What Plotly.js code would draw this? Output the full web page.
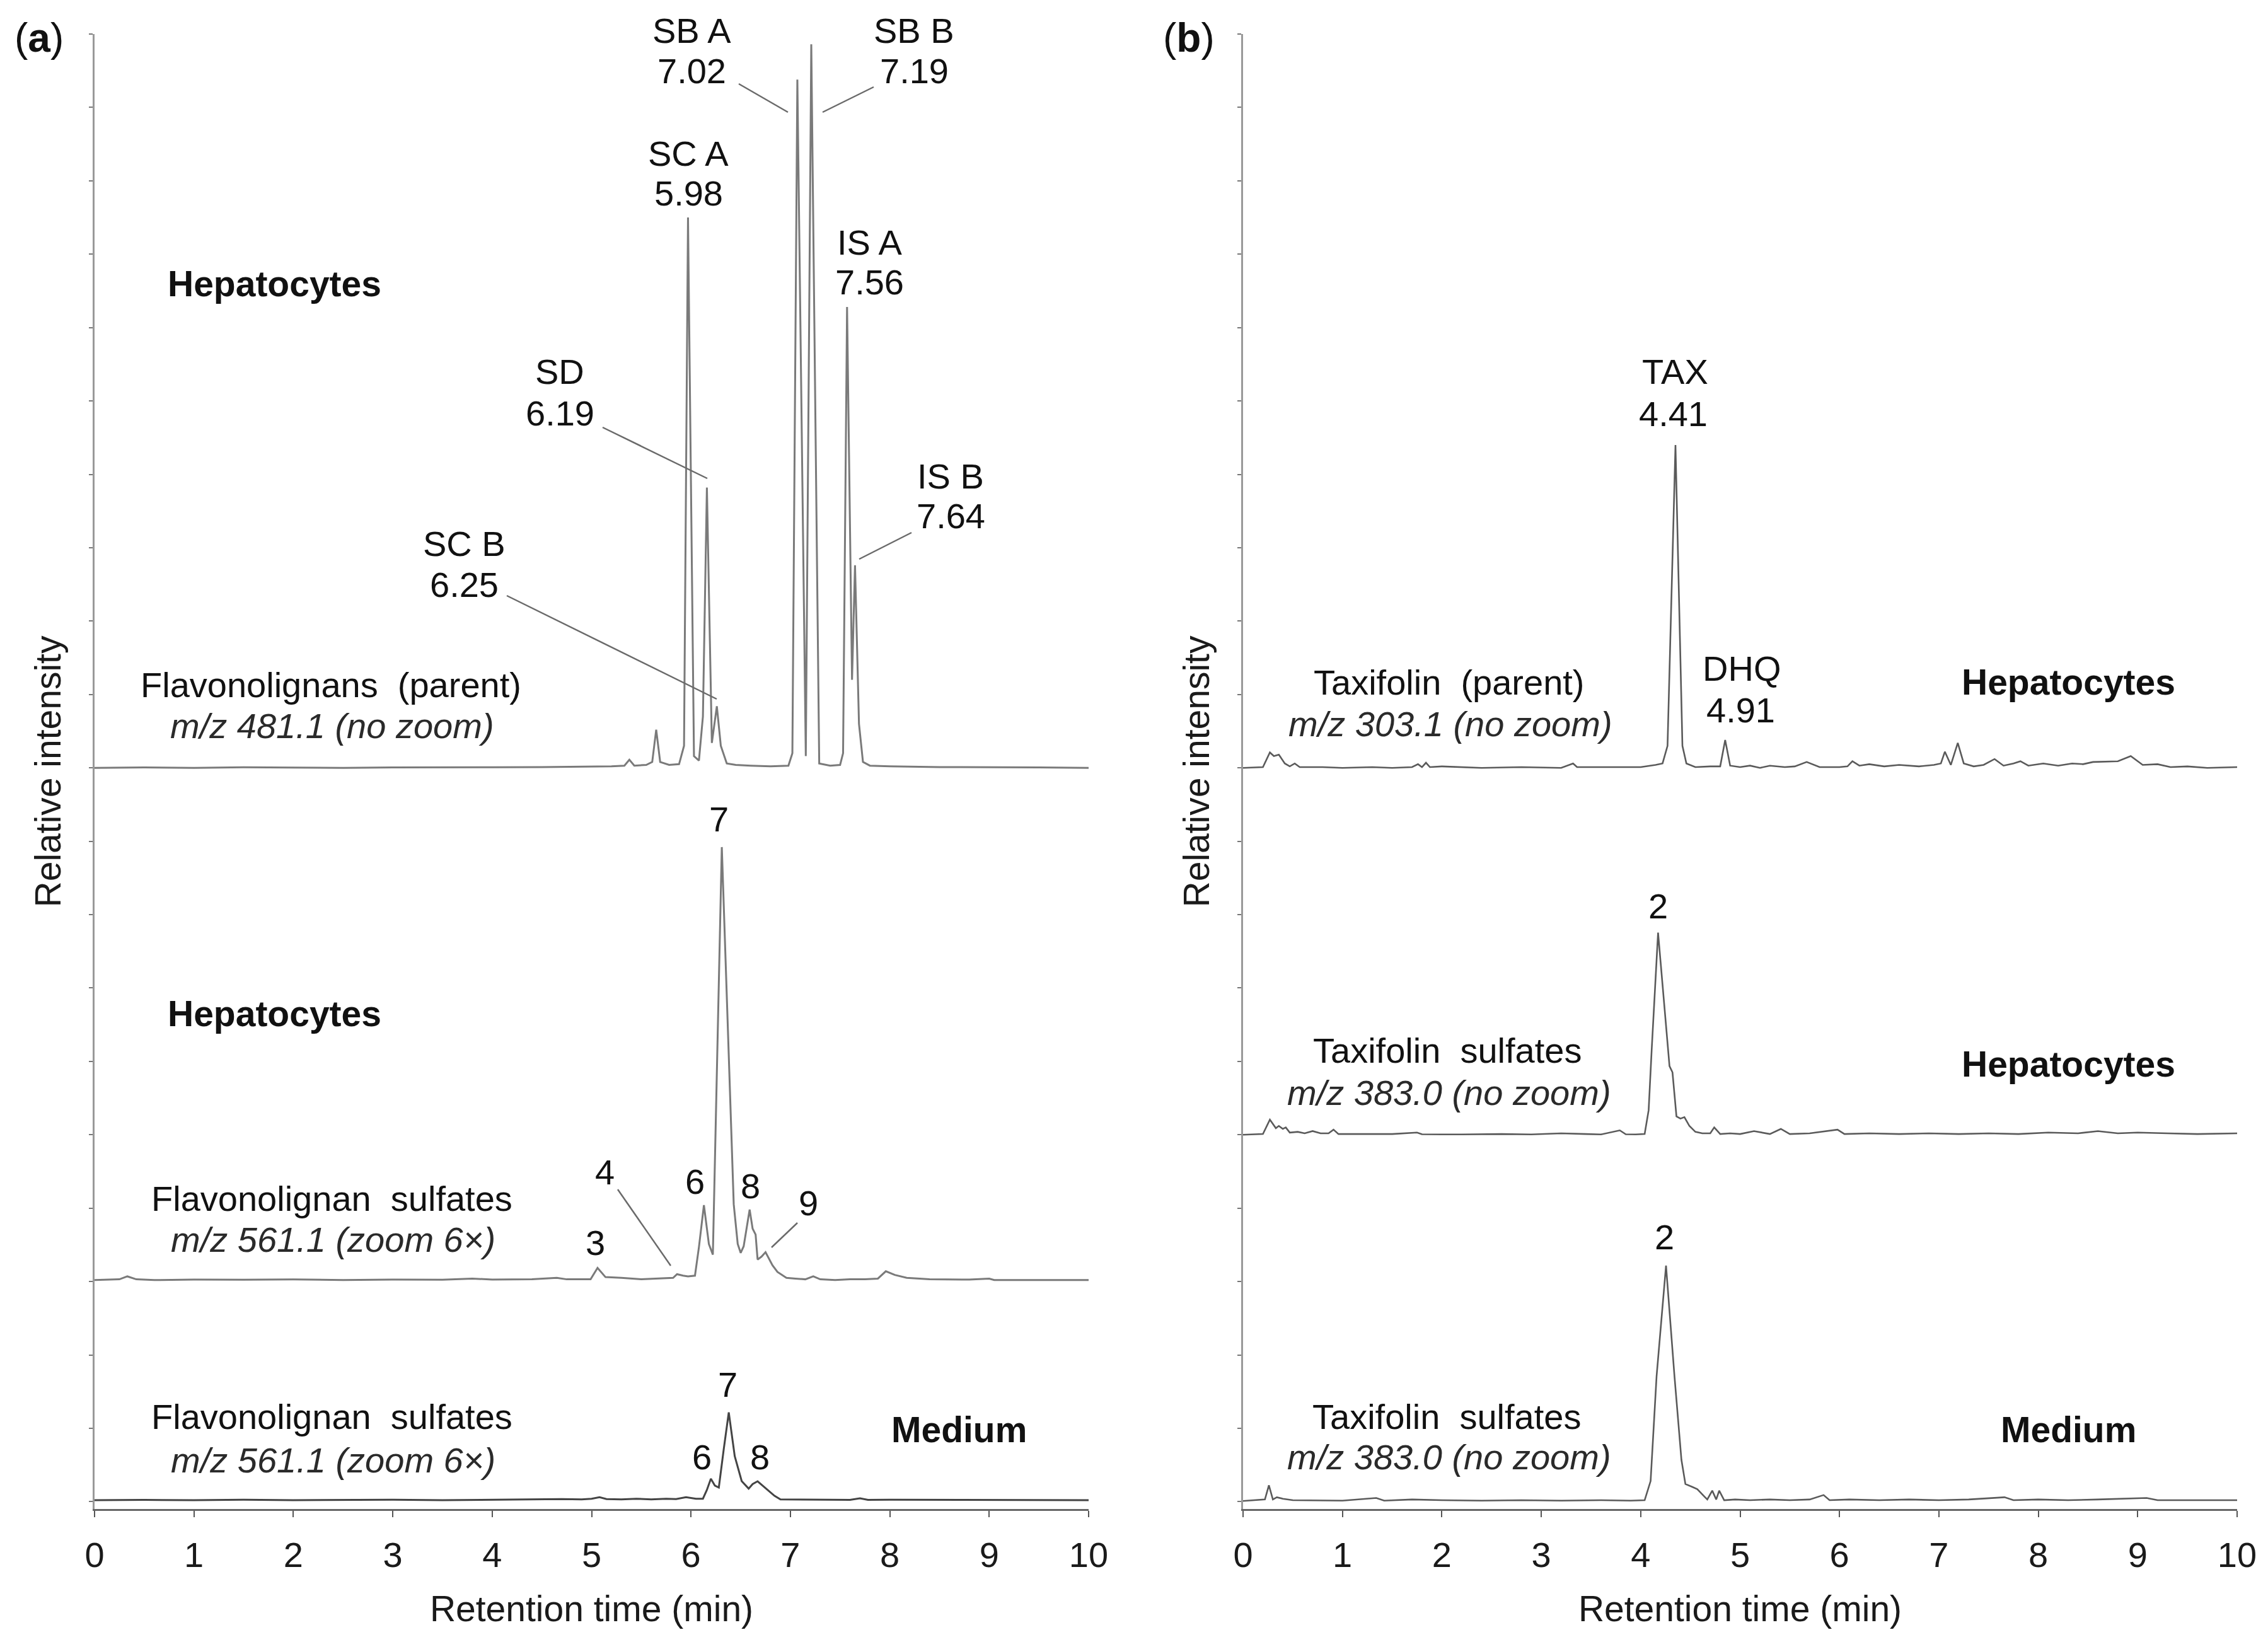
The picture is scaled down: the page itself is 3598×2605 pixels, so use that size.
<!DOCTYPE html>
<html><head><meta charset="utf-8">
<script src="https://cdn.plot.ly/plotly-3.0.1.min.js"></script>
<style>html,body{margin:0;padding:0;background:#fff;}#chart{width:3598px;height:2605px;}</style>
</head><body><div id="chart"></div>
<script>
// ---------- DATA (retention time [min], relative intensity) ----------
// Panel (a) – flavonolignans
const flavParentHep = [[0,0],[0.5,0.03],[1.0,0],[1.5,0.04],[2.0,0.02],[2.5,0],[3.0,0.03],[3.5,0.02],[4.0,0.04],[4.5,0.05],[5.0,0.08],[5.2,0.1],[5.33,0.15],[5.38,0.55],[5.43,0.15],[5.55,0.2],[5.61,0.4],[5.65,2.6],[5.69,0.4],[5.78,0.2],[5.88,0.25],[5.93,1.5],[5.97,37.5],[6.03,0.8],[6.08,0.5],[6.12,3.5],[6.16,19.1],[6.21,1.7],[6.26,4.2],[6.30,1.5],[6.36,0.3],[6.45,0.2],[6.6,0.15],[6.8,0.1],[6.98,0.15],[7.02,1.0],[7.07,46.9],[7.155,0.8],[7.21,49.3],[7.29,0.3],[7.40,0.15],[7.50,0.2],[7.53,1.0],[7.57,31.4],[7.62,6.0],[7.65,13.8],[7.69,3.0],[7.73,0.4],[7.80,0.15],[8.0,0.1],[8.5,0.05],[9.0,0.05],[9.5,0.03],[10,0]];
const flavSulfHep = [[0,0],[0.25,0.05],[0.33,0.25],[0.42,0.05],[0.6,0],[1.0,0.03],[1.5,0.02],[2.0,0.04],[2.5,0],[3.0,0.03],[3.5,0.02],[3.8,0.1],[4.0,0.03],[4.4,0.05],[4.65,0.15],[4.75,0.05],[4.99,0.05],[5.06,0.83],[5.14,0.2],[5.3,0.15],[5.5,0.05],[5.7,0.1],[5.82,0.15],[5.86,0.4],[5.92,0.3],[5.97,0.25],[6.04,0.3],[6.08,2.25],[6.13,5.1],[6.18,2.45],[6.22,1.73],[6.31,29.5],[6.43,5.16],[6.47,2.46],[6.50,1.85],[6.53,2.3],[6.59,4.8],[6.62,3.5],[6.65,3.1],[6.67,1.4],[6.71,1.6],[6.75,1.9],[6.82,1.0],[6.87,0.55],[6.96,0.15],[7.05,0.1],[7.15,0.05],[7.23,0.25],[7.30,0.05],[7.45,0],[7.6,0.05],[7.75,0.05],[7.88,0.1],[7.96,0.6],[8.05,0.35],[8.17,0.15],[8.4,0.05],[8.8,0.03],[9.0,0.1],[9.05,0],[9.5,0],[10,0]];
const flavSulfMed = [[0,0],[0.5,0.02],[1.0,0],[1.5,0.03],[2.0,0],[2.5,0.02],[3.0,0.03],[3.5,0],[4.0,0.02],[4.5,0.05],[4.7,0.08],[4.9,0.05],[5.0,0.1],[5.08,0.2],[5.15,0.08],[5.3,0.05],[5.45,0.1],[5.6,0.05],[5.75,0.1],[5.85,0.08],[5.95,0.2],[6.05,0.1],[6.12,0.1],[6.16,0.7],[6.20,1.46],[6.24,1.0],[6.28,0.86],[6.33,3.5],[6.38,5.98],[6.44,3.0],[6.51,1.3],[6.58,0.79],[6.62,1.1],[6.67,1.29],[6.72,1.0],[6.79,0.6],[6.84,0.3],[6.90,0.05],[7.0,0.05],[7.2,0.02],[7.4,0.05],[7.6,0.02],[7.70,0.13],[7.78,0.02],[8.0,0.03],[8.5,0.02],[9.0,0],[9.5,0.02],[10,0]];
// Panel (b) – taxifolin
const taxParentHep = [[0,0],[0.2,0.05],[0.27,1.05],[0.31,0.8],[0.36,0.9],[0.42,0.3],[0.47,0.1],[0.52,0.3],[0.57,0.05],[0.8,0.05],[1.0,0.0],[1.3,0.05],[1.5,0.0],[1.7,0.05],[1.76,0.25],[1.80,0.05],[1.84,0.35],[1.88,0.05],[2.0,0.1],[2.4,0.0],[2.8,0.05],[3.2,0.0],[3.32,0.3],[3.36,0.05],[3.7,0.05],[4.0,0.05],[4.15,0.2],[4.22,0.3],[4.27,1.5],[4.35,22.0],[4.42,1.5],[4.46,0.3],[4.55,0.05],[4.70,0.1],[4.80,0.1],[4.85,1.9],[4.90,0.15],[5.0,0.05],[5.1,0.15],[5.2,0.0],[5.3,0.15],[5.45,0.05],[5.55,0.1],[5.67,0.4],[5.8,0.05],[6.0,0.05],[6.08,0.1],[6.13,0.45],[6.2,0.15],[6.3,0.25],[6.45,0.1],[6.6,0.2],[6.8,0.1],[6.95,0.2],[7.02,0.3],[7.06,1.1],[7.12,0.2],[7.19,1.7],[7.25,0.3],[7.35,0.1],[7.45,0.2],[7.56,0.6],[7.65,0.15],[7.75,0.3],[7.82,0.45],[7.9,0.15],[8.05,0.3],[8.2,0.15],[8.34,0.3],[8.45,0.25],[8.55,0.4],[8.8,0.45],[8.93,0.8],[9.05,0.2],[9.2,0.25],[9.33,0.05],[9.5,0.1],[9.7,0.0],[10,0.05]];
const taxSulfHep = [[0,0],[0.2,0.05],[0.27,1.03],[0.33,0.45],[0.36,0.6],[0.40,0.4],[0.43,0.5],[0.47,0.15],[0.55,0.2],[0.62,0.1],[0.70,0.25],[0.78,0.1],[0.86,0.1],[0.91,0.35],[0.96,0.05],[1.1,0.05],[1.3,0.02],[1.5,0.05],[1.75,0.15],[1.8,0.03],[2.2,0.02],[2.6,0.05],[2.9,0.02],[3.2,0.1],[3.45,0.05],[3.6,0.02],[3.79,0.3],[3.85,0.03],[3.95,0.02],[4.04,0.05],[4.08,1.67],[4.11,5.7],[4.175,13.77],[4.24,8.5],[4.29,4.68],[4.32,4.25],[4.36,1.25],[4.40,1.1],[4.44,1.2],[4.49,0.6],[4.55,0.2],[4.62,0.1],[4.70,0.1],[4.74,0.5],[4.80,0.05],[4.9,0.1],[5.0,0.05],[5.14,0.25],[5.3,0.05],[5.41,0.4],[5.5,0.05],[5.7,0.1],[5.98,0.35],[6.05,0.05],[6.3,0.1],[6.6,0.05],[6.9,0.1],[7.2,0.05],[7.5,0.1],[7.8,0.05],[8.1,0.15],[8.4,0.1],[8.6,0.25],[8.8,0.1],[9.0,0.15],[9.3,0.1],[9.6,0.05],[10,0.1]];
const taxSulfMed = [[0,0],[0.15,0.05],[0.22,0.1],[0.26,1.07],[0.30,0.1],[0.34,0.25],[0.40,0.15],[0.5,0.05],[0.7,0.05],[1.0,0.02],[1.34,0.2],[1.42,0.02],[1.7,0.1],[2.0,0.05],[2.4,0.02],[2.8,0.05],[3.2,0.02],[3.6,0.05],[3.9,0.02],[4.04,0.05],[4.10,1.36],[4.16,8.5],[4.255,16.03],[4.34,8.5],[4.41,2.8],[4.45,1.15],[4.52,0.95],[4.57,0.8],[4.64,0.3],[4.67,0.1],[4.72,0.7],[4.76,0.1],[4.79,0.7],[4.84,0.05],[4.95,0.1],[5.1,0.05],[5.3,0.1],[5.5,0.05],[5.7,0.1],[5.84,0.4],[5.9,0.05],[6.1,0.1],[6.4,0.05],[6.7,0.1],[7.0,0.05],[7.3,0.1],[7.66,0.25],[7.75,0.05],[8.0,0.1],[8.3,0.05],[8.6,0.1],[9.09,0.2],[9.2,0.05],[9.5,0.05],[10,0.05]];
const xTickVals = [0,1,2,3,4,5,6,7,8,9,10];
const xTickText = ['0','1','2','3','4','5','6','7','8','9','10'];

// ---------- LAYOUT CONSTANTS ----------
const W = 3598, H = 2605, ML = 150, MR = 49, MT = 54, MB = 211;
const YR = [-0.5, 100];
const PH = H - MT - MB;
const PXU = PH / (YR[1] - YR[0]);
const PXM = 157.7;                     // px per minute
const X0PX = {a: 150, b: 1972};
const FONT = 'Liberation Sans, Arial, Helvetica, sans-serif';

// stacking offsets of the traces
const offA = [50.0, 15.1, 0.1];
const offB = [50.0, 25.0, 0.05];

function tr(pairs, off, xa, ya, color, w) {
  return {x: pairs.map(p => p[0]), y: pairs.map(p => p[1] + off), xaxis: xa, yaxis: ya,
    type: 'scatter', mode: 'lines', line: {color: color, width: w, shape: 'linear'}, hoverinfo: 'skip', showlegend: false};
}
const data = [
  tr(flavParentHep, offA[0], 'x', 'y', '#7a7a7a', 3),
  tr(flavSulfHep, offA[1], 'x', 'y', '#7a7a7a', 3),
  tr(flavSulfMed, offA[2], 'x', 'y', '#444444', 3),
  tr(taxParentHep, offB[0], 'x2', 'y2', '#5a5a5a', 2.6),
  tr(taxSulfHep, offB[1], 'x2', 'y2', '#5a5a5a', 2.6),
  tr(taxSulfMed, offB[2], 'x2', 'y2', '#5a5a5a', 2.6)
];

function dx(p, px) { return (px - X0PX[p]) / PXM; }
function py2paper(py) { return (H - MB - py) / PH; }
function dy(py) { return YR[0] + (H - MB - py) / PXU; }

// labels: [panel, text, px, py, style]
const labels = [
  ['a','SB A',1097,48,'n'],['a','7.02',1097,112,'n'],
  ['a','SB B',1450,48,'n'],['a','7.19',1450,112,'n'],
  ['a','SC A',1092,243,'n'],['a','5.98',1092,307,'n'],
  ['a','IS A',1379,384,'n'],['a','7.56',1379,448,'n'],
  ['a','SD',888,590,'n'],['a','6.19',888,655,'n'],
  ['a','IS B',1508,755,'n'],['a','7.64',1508,819,'n'],
  ['a','SC B',736,862,'n'],['a','6.25',736,927,'n'],
  ['a','Hepatocytes',435,450,'b'],
  ['a','Flavonolignans  (parent)',525,1086,'n'],['a','m/z 481.1 (no zoom)',527,1151,'i'],
  ['a','7',1140,1299,'n'],
  ['a','Hepatocytes',435,1608,'b'],
  ['a','4',959,1859,'n'],['a','3',944,1971,'n'],['a','6',1102,1874,'n'],['a','8',1190,1881,'n'],['a','9',1282,1908,'n'],
  ['a','Flavonolignan  sulfates',526,1901,'n'],['a','m/z 561.1 (zoom 6×)',528,1966,'i'],
  ['a','7',1154,2196,'n'],['a','6',1113,2311,'n'],['a','8',1205,2311,'n'],
  ['a','Flavonolignan  sulfates',526,2247,'n'],['a','m/z 561.1 (zoom 6×)',528,2316,'i'],
  ['a','Medium',1521,2268,'b'],
  ['b','TAX',2657,590,'n'],['b','4.41',2654,657,'n'],
  ['b','DHQ',2763,1060,'n'],['b','4.91',2761,1126,'n'],
  ['b','Taxifolin  (parent)',2299,1082,'n'],['b','m/z 303.1 (no zoom)',2301,1148,'i'],
  ['b','Hepatocytes',3281,1082,'b'],
  ['b','2',2630,1437,'n'],
  ['b','Taxifolin  sulfates',2296,1666,'n'],['b','m/z 383.0 (no zoom)',2299,1733,'i'],
  ['b','Hepatocytes',3281,1688,'b'],
  ['b','2',2640,1962,'n'],
  ['b','Taxifolin  sulfates',2295,2247,'n'],['b','m/z 383.0 (no zoom)',2299,2311,'i'],
  ['b','Medium',3281,2268,'b']
];
// leader lines: [panel, px0, py0, px1, py1]
const leaders = [
  ['a',1172,133,1250,178],['a',1386,138,1305,178],['a',956,678,1122,759],
  ['a',1446,845,1363,887],['a',804,945,1137,1109],['a',980,1887,1064,2008],['a',1265,1940,1224,1979]
];

const annotations = labels.map(l => {
  const p = l[0], st = l[4];
  let txt = l[1];
  if (st === 'b') txt = '<b>' + txt + '</b>';
  if (st === 'i') txt = '<i>' + txt + '</i>';
  return {xref: p === 'a' ? 'x' : 'x2', yref: 'paper', x: dx(p, l[2]), y: py2paper(l[3]),
    text: txt, showarrow: false, xanchor: 'center', yanchor: 'middle',
    font: {family: FONT, size: st === 'b' ? 57 : 56, color: st === 'i' ? '#2a2a2a' : '#111'}};
});
annotations.push({xref:'paper', yref:'paper', x: (62 - ML) / (W - ML - MR), y: py2paper(60),
  text:'(<b>a</b>)', showarrow:false, xanchor:'center', yanchor:'middle', font:{family:FONT, size:64, color:'#111'}});
annotations.push({xref:'paper', yref:'paper', x: (1886 - ML) / (W - ML - MR), y: py2paper(60),
  text:'(<b>b</b>)', showarrow:false, xanchor:'center', yanchor:'middle', font:{family:FONT, size:64, color:'#111'}});

const shapes = leaders.map(s => ({type:'line', xref: s[0] === 'a' ? 'x' : 'x2', yref: s[0] === 'a' ? 'y' : 'y2',
  x0: dx(s[0], s[1]), y0: dy(s[2]), x1: dx(s[0], s[3]), y1: dy(s[4]), line: {color:'#6a6a6a', width: 2.5}}));

const PW = W - ML - MR;
function xax(dom) {
  return {domain: dom, range: [0, 10], tickmode: 'array', tickvals: xTickVals, ticktext: xTickText,
    ticks: 'outside', ticklen: 10, tickwidth: 2, tickcolor: '#555', showline: true, linecolor: '#666', linewidth: 2.5,
    showgrid: false, zeroline: false, tickfont: {family: FONT, size: 56, color: '#1a1a1a'}, ticklabelstandoff: 12,
    title: {text: 'Retention time (min)', font: {family: FONT, size: 57, color: '#1a1a1a'}, standoff: 36}, fixedrange: true};
}
function yax(anchor) {
  return {anchor: anchor, domain: [0, 1], range: YR, tickmode: 'linear', tick0: 0, dtick: 5, ticks: 'outside', ticklen: 6,
    tickwidth: 2, tickcolor: '#777', showticklabels: false, showline: true, linecolor: '#999', linewidth: 3,
    showgrid: false, zeroline: false,
    title: {text: 'Relative intensity', font: {family: FONT, size: 57, color: '#1a1a1a'}, standoff: 27}, fixedrange: true};
}
const layout = {
  width: W, height: H, margin: {l: ML, r: MR, t: MT, b: MB}, paper_bgcolor: '#fff', plot_bgcolor: '#fff',
  showlegend: false, font: {family: FONT, size: 56, color: '#111'},
  xaxis: Object.assign(xax([0, 1577 / PW]), {anchor: 'y'}),
  xaxis2: Object.assign(xax([(1972 - ML) / PW, 1]), {anchor: 'y2'}),
  yaxis: yax('x'), yaxis2: yax('x2'),
  annotations: annotations, shapes: shapes
};
Plotly.newPlot('chart', data, layout, {staticPlot: true, displayModeBar: false});
</script></body></html>
